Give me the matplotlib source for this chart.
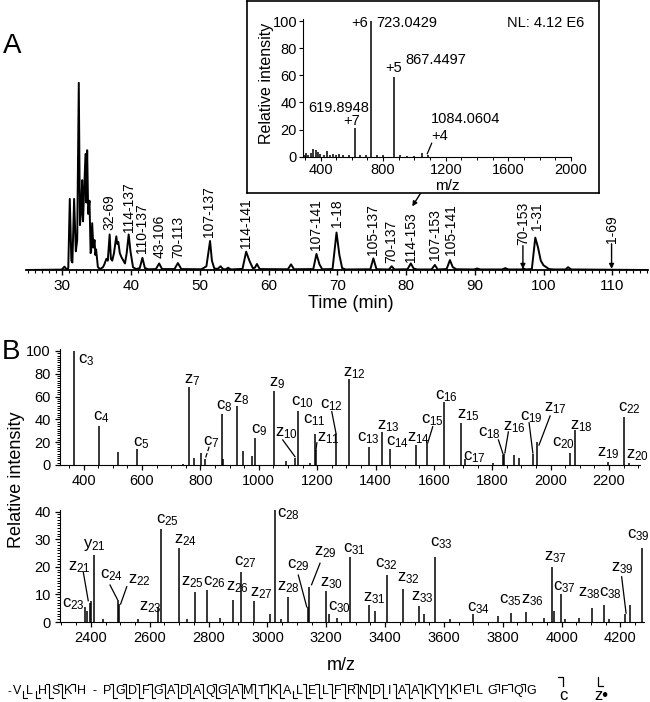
import matplotlib
matplotlib.use("Agg")
import matplotlib.pyplot as plt
from matplotlib.ticker import MultipleLocator

plt.rcParams['font.family'] = ['Liberation Sans', 'DejaVu Sans']
plt.rcParams['mathtext.fontset'] = 'custom'
plt.rcParams['mathtext.rm'] = 'Liberation Sans'
plt.rcParams['mathtext.it'] = 'Liberation Sans:italic'
plt.rcParams['mathtext.bf'] = 'Liberation Sans:bold'

# ---------------- data: panel A chromatogram (traced vertices) ----------------
chrom_time = [24.7, 29.9, 30.3, 30.6, 30.85, 31.07, 31.3, 31.45, 31.7, 31.95, 32.15, 32.38, 32.55,
              32.7, 32.87, 33.0, 33.15, 33.36, 33.48, 33.6, 33.75, 33.94, 34.1, 34.18, 34.33, 34.5,
              34.67, 34.8, 34.9, 35.16, 35.5, 35.9, 36.1, 36.4, 36.6, 36.87, 37.05, 37.25, 37.5,
              37.84, 37.98, 38.13, 38.35, 38.57, 38.8, 39.1, 39.35, 39.64, 39.9, 40.27, 40.7, 41.25,
              41.64, 42.0, 42.5, 43.6, 44.07, 44.5, 46.3, 46.8, 47.3, 50.2, 50.6, 50.95, 51.48, 51.75,
              52.1, 52.6, 53.0, 53.4, 53.8, 54.1, 54.5, 56.2, 56.73, 57.2, 57.7, 58.0, 58.3, 58.7,
              62.8, 63.26, 63.7, 66.5, 66.96, 67.4, 67.8, 69.3, 69.88, 70.3, 70.7, 71.2, 74.8, 75.24,
              75.7, 77.5, 77.91, 78.3, 80.2, 80.69, 81.1, 81.6, 83.7, 84.19, 84.6, 85.9, 86.38, 86.8,
              87.3, 89.9, 90.33, 90.8, 94.0, 94.42, 94.9, 96.8, 97.09, 97.4, 98.3, 98.8, 99.2, 99.6,
              100.0, 100.4, 100.8, 101.5, 103.2, 103.57, 104.0, 115.2]
chrom_int = [0, 0.2, 1.8, 0.3, 1, 38, 5, 4, 38, 10, 16, 100, 24,
             30, 48, 26, 42, 62, 36, 64, 30, 37, 9, 10, 25, 12,
             16, 8, 11, 1.5, 0.5, 1.5, 3, 6, 5, 19, 6, 5, 9,
             18, 14, 15, 9, 7, 5.5, 3.5, 9, 19, 10, 1.5, 0.5, 1,
             6.5, 1, 0.4, 0.5, 3.5, 0.5, 0.5, 3.7, 0.5, 0.4, 1.2, 2, 15.5, 5,
             0.8, 0.6, 2, 0.4, 0.4, 1.2, 0.3, 0.6, 9.8, 5, 1, 1.2, 3.2, 0.5,
             0.4, 3, 0.4, 0.5, 8.6, 3, 0.4, 0.5, 20, 8, 1, 0.3, 0.4, 6.2,
             0.4, 0.3, 2, 0.3, 0.4, 3.5, 0.8, 0.3, 0.3, 2.7, 0.3, 0.5, 5.3, 1.5,
             0.4, 0.3, 0.8, 0.3, 0.3, 1, 0.3, 0.3, 0.8, 0.3, 0.5, 17.3, 12, 5,
             2.5, 1.5, 0.5, 0.3, 0.3, 1.5, 0.3, 0]

chrom_labels = ["32-69", "114-137", "110-137", "43-106", "70-113", "107-137", "114-141",
                "107-141", "1-18", "105-137", "70-137", "114-153", "107-153", "105-141", "1-31"]
chrom_label_time = [36.9, 39.65, 41.6, 44.1, 46.8, 51.35, 56.7, 66.95, 69.9, 75.25, 77.9,
                    80.7, 84.2, 86.5, 99.0]
chrom_label_level = [21.4, 20.5, 9, 6.3, 6.3, 17.8, 11.6, 10.7, 23, 8, 3.7, 4.4, 5.3, 8, 21.4]
chrom_arrow_labels = ["70-153", "1-69"]
chrom_arrow_time = [97.0, 109.9]
chrom_arrow_level = [13, 14]

# ---------------- data: inset MS1 ----------------
ms1_mz = [300, 307, 322, 338, 355, 370, 381, 396, 420, 440, 460, 478, 500, 517, 545, 580,
          619.8948, 650, 690, 723.0429, 760, 800, 867.4497, 905, 950, 1000, 1046, 1084.0604]
ms1_int = [1.5, 2.5, 1.2, 3, 5.5, 5, 3.5, 2, 1.5, 4.4, 1.2, 2, 1, 2, 1, 1,
           21.4, 1, 1, 100, 1, 1, 58.5, 1, 0.8, 0.8, 3, 1.5]
ms1_text = ["+6", "723.0429", "NL: 4.12 E6", "+5", "867.4497", "619.8948", "+7", "1084.0604", "+4"]
ms1_text_mz = [705, 759, 1590, 865, 940, 321, 599, 1104, 1110]
ms1_text_int = [95.8, 95.8, 95.8, 62.7, 68.3, 33.2, 23.4, 24.6, 12.3]
ms1_text_ha = ["right", "left", "left", "center", "left", "left", "center", "left", "left"]

# ---------------- data: panel B, 400-2300 ----------------
top_mz = [367.2, 454.3, 519, 582.4, 740, 762.4, 778, 802, 816.5, 873.5, 879, 925.5, 947, 976,
          988.5, 1053.5, 1093, 1124.6, 1135.6, 1175, 1192.6, 1195.6, 1263.7, 1308.7, 1378.7,
          1423.7, 1449.7, 1537.8, 1577.8, 1634.8, 1693.9, 1705.8, 1802, 1836.9, 1841, 1873,
          1892, 1937.9, 1954, 2066, 2083.1, 2196.2, 2250.1, 2267.2]
top_int = [100, 34.5, 11.7, 14, 1, 68.7, 6, 10.5, 5, 44.5, 5, 52, 12, 8,
           24, 65, 3.5, 6, 47, 2, 27, 13, 28, 75, 16,
           29, 14, 17.5, 19, 55.5, 37, 5, 2, 9, 10, 9,
           6, 10, 20, 10.5, 30.7, 3, 42, 2]
top_ions = ["c3", "c4", "c5", "c7", "z7", "c8", "z8", "c9", "z9", "z10", "c10", "c11", "z11",
            "c12", "z12", "c13", "z13", "c14", "z14", "c15", "c16", "z15", "c17", "c18", "z16",
            "c19", "z17", "c20", "z18", "z19", "c22", "z20"]
top_ion_mz = [381.7, 431, 570, 808, 745, 853, 913, 972, 1036, 1055, 1110, 1152.5, 1199,
              1210, 1289.5, 1337.5, 1404, 1435, 1509, 1556, 1603.7, 1678, 1698.6, 1752, 1835.6,
              1895, 1977, 2003.5, 2066, 2157.6, 2229.6, 2258]
top_ion_int = [89, 39, 16, 17.5, 71.7, 49, 55, 27.8, 68.7, 25, 52.6, 36.6, 21,
               50, 77.5, 20.5, 31, 17.5, 20.5, 36.6, 58, 41, 4.4, 25, 30.7,
               39.5, 46.7, 16, 31, 7.3, 46.7, 5.8]
# leader lines (label -> peak), data coords
top_leaders = [(830, 16, 818, 6.5), (1082, 22, 1124, 7.3), (1199, 19.5, 1196, 13.5),
               (1250, 46.8, 1264, 28.5), (1596, 33.6, 1579, 19.5), (1821, 22, 1837, 9.5),
               (1855, 29, 1843, 10.5), (1926, 37, 1939, 10.5), (1998, 43, 1960, 17.5)]

# ---------------- data: panel B, 2300-4300 ----------------
bot_mz = [2379.2, 2386, 2395.3, 2401, 2411.3, 2440, 2492.3, 2496.3, 2560, 2627.4, 2639.3,
          2698.4, 2725, 2755.4, 2795.4, 2840, 2883.5, 2909.5, 2954.5, 3008, 3024.5, 3045,
          3069.6, 3137.6, 3140.6, 3197.6, 3208.6, 3235, 3279.7, 3344.7, 3367, 3407.8, 3459.7,
          3516.7, 3531, 3570.8, 3620, 3698.9, 3783, 3828, 3878.9, 3940, 3966, 3975, 3998.1,
          4010, 4060, 4103, 4145.1, 4160, 4216.1, 4232, 4273.2]
bot_int = [5.5, 4, 7, 7.5, 24.3, 1, 8, 6.5, 1, 5.5, 33.6,
           26.7, 1, 11, 11.6, 1.5, 8, 18.2, 7.7, 3, 40.5, 1,
           9, 5.5, 12.8, 11.3, 3, 1.5, 23.4, 6, 4, 17, 11.8,
           5.9, 3, 23.7, 1, 3, 2, 3.2, 3.5, 1.5, 20, 4, 10,
           1, 1.5, 5, 6.2, 1, 3, 6, 26.7]
bot_ions = ["c23", "z21", "y21", "c24", "z22", "z23", "c25", "z24", "z25", "c26", "z26", "c27",
            "z27", "c28", "z28", "c29", "z29", "z30", "c30", "c31", "z31", "c32", "z32", "z33",
            "c33", "c34", "c35", "z36", "z37", "c37", "z38", "c38", "z39", "c39"]
bot_ion_mz = [2301, 2323, 2372, 2431, 2527, 2564.5, 2621, 2682.5, 2706, 2782, 2859, 2887,
              2941, 3031.6, 3031.6, 3067.6, 3159, 3178.7, 3205, 3258, 3326, 3366, 3441.5, 3487,
              3553, 3677, 3787, 3862, 3940, 3972, 4054.7, 4128, 4168, 4221]
bot_ion_int = [5.5, 18.8, 26.7, 15.8, 14, 4.3, 35.8, 28.5, 13.4, 13.4, 11.6, 20.7,
               9.2, 38, 11.6, 19.4, 24.3, 12.8, 4.3, 25.1, 7.4, 20, 14.6, 8,
               27.3, 3.7, 6.8, 6.8, 22.5, 11.6, 9.2, 9.2, 18.2, 30.3]
bot_leaders = [(2374, 18.2, 2391, 7.7), (2465, 13.4, 2490, 8.2), (2522, 12.8, 2501, 6.5),
               (3105, 17, 3133.6, 5.5), (3178.8, 21.3, 3150, 13.5), (4204, 16.4, 4219, 3.2)]

# ---------------- sequence ----------------
sequence = "VLHSKHPGDFGADAQGAMTKALELFRNDIAAKYKELGFQG"
c_observed = [3, 4, 5, 7, 8, 9, 10, 11, 12, 13, 14, 15, 16, 17, 18, 19, 20, 22, 23, 24, 25, 26,
              27, 28, 29, 30, 31, 32, 33, 34, 35, 37, 38, 39]
z_observed = list(range(7, 34)) + [36, 37, 38, 39]

# ---------------- figure ----------------
W, H = 650, 702
fig = plt.figure(figsize=(6.5, 7.02), dpi=100)


def frac(l, t, r, b):
    return [l / W, 1 - b / H, (r - l) / W, (b - t) / H]


def ion_label(name):
    return name[0] + r'$_{' + name[1:] + '}$'


# Panel A chromatogram
axc = fig.add_axes(frac(26, 80, 648, 270), zorder=1)
axc.plot(chrom_time, chrom_int, color='k', lw=1.4)
axc.set_xlim(24.7, 115.2)
axc.set_ylim(0, 101.5)
for s in ['left', 'right', 'top']:
    axc.spines[s].set_visible(False)
axc.spines['bottom'].set_linewidth(1.3)
axc.set_yticks([])
axc.xaxis.set_major_locator(MultipleLocator(10))
axc.xaxis.set_minor_locator(MultipleLocator(1))
axc.tick_params(axis='x', which='major', direction='out', length=3.5, width=1, labelsize=11, pad=3)
axc.tick_params(axis='x', which='minor', direction='out', length=2, width=0.8)
axc.patch.set_alpha(0)
for lab, t, y in zip(chrom_labels, chrom_label_time, chrom_label_level):
    axc.text(t, y, lab, rotation=90, ha='center', va='bottom', fontsize=10)
for lab, t, y in zip(chrom_arrow_labels, chrom_arrow_time, chrom_arrow_level):
    axc.annotate('', xy=(t, 0.6), xytext=(t, y),
                 arrowprops=dict(arrowstyle='-|>', color='k', lw=1, mutation_scale=7,
                                 shrinkA=0, shrinkB=0))
    axc.text(t, y + 0.3, lab, rotation=90, ha='center', va='bottom', fontsize=10)
axc.annotate('', xy=(80.9, 34.0), xytext=(82.2, 41.5),
             arrowprops=dict(arrowstyle='-|>', color='k', lw=1, mutation_scale=7,
                             shrinkA=0, shrinkB=0), annotation_clip=False)

# Inset box and MS1 spectrum
axbox = fig.add_axes(frac(247, 1, 599, 193), zorder=2)
axbox.set_xticks([])
axbox.set_yticks([])
for s in axbox.spines.values():
    s.set_linewidth(1.2)

axi = fig.add_axes(frac(303.3, 19.3, 571, 156.7), zorder=3)
axi.patch.set_alpha(0)
axi.vlines(ms1_mz, 0, ms1_int, color='k', lw=1.1)
axi.set_xlim(290, 2000)
axi.set_ylim(0, 101.3)
axi.spines['top'].set_visible(False)
axi.spines['right'].set_visible(False)
axi.xaxis.set_major_locator(MultipleLocator(400))
axi.xaxis.set_minor_locator(MultipleLocator(100))
axi.yaxis.set_major_locator(MultipleLocator(20))
axi.tick_params(which='major', direction='out', length=3, width=0.8, labelsize=10.5, pad=1.5)
axi.tick_params(which='minor', direction='out', length=1.8, width=0.7)
for t, x, y, ha in zip(ms1_text, ms1_text_mz, ms1_text_int, ms1_text_ha):
    axi.text(x, y, t, ha=ha, va='baseline', fontsize=10.5)
axi.plot([1110, 1082], [9.9, 2.2], color='k', lw=0.9)

# Panel B top spectrum
axt = fig.add_axes(frac(60, 349, 640, 465), zorder=1)
axt.vlines(top_mz, 0, top_int, color='k', lw=1.1)
axt.set_xlim(319, 2306)
axt.set_ylim(0, 101.7)
for t, x, y in zip(top_ions, top_ion_mz, top_ion_int):
    axt.text(x, y, ion_label(t), ha='left', va='baseline', fontsize=12)
for i, (x1, y1, x2, y2) in enumerate(top_leaders):
    axt.plot([x1, x2], [y1, y2], color='k', lw=0.9, ls='--' if i == 0 else '-')

# Panel B bottom spectrum
axb = fig.add_axes(frac(60, 510, 644, 622), zorder=1)
axb.vlines(bot_mz, 0, bot_int, color='k', lw=1.1)
axb.set_xlim(2295, 4280)
axb.set_ylim(0, 40.6)
for t, x, y in zip(bot_ions, bot_ion_mz, bot_ion_int):
    axb.text(x, y, ion_label(t), ha='left', va='baseline', fontsize=12)
for (x1, y1, x2, y2) in bot_leaders:
    axb.plot([x1, x2], [y1, y2], color='k', lw=0.9)

for ax, ymaj, ymin in [(axt, 20, 2), (axb, 10, 1)]:
    ax.spines['top'].set_visible(False)
    ax.spines['right'].set_visible(False)
    ax.xaxis.set_major_locator(MultipleLocator(200))
    ax.xaxis.set_minor_locator(MultipleLocator(50))
    ax.yaxis.set_major_locator(MultipleLocator(ymaj))
    ax.yaxis.set_minor_locator(MultipleLocator(ymin))
    ax.tick_params(which='major', direction='out', length=3.5, width=0.9, labelsize=10.5, pad=3)
    ax.tick_params(which='minor', direction='out', length=2, width=0.7)
    ax.patch.set_alpha(0)

# Overlay for panel letters, axis titles, sequence
ov = fig.add_axes([0, 0, 1, 1], zorder=10)
ov.set_xlim(0, W)
ov.set_ylim(H, 0)
ov.axis('off')
ov.patch.set_alpha(0)
ov.text(12, 46, 'A', fontsize=20, ha='center', va='center')
ov.text(11, 352, 'B', fontsize=20, ha='center', va='center')
ov.text(351, 303, 'Time (min)', fontsize=13, ha='center', va='center')
ov.text(266.7, 83.3, 'Relative intensity', fontsize=11.5, rotation=90, ha='center', va='center')
ov.text(447.3, 185.5, 'm/z', fontsize=11, ha='center', va='center')
ov.text(17, 480, 'Relative intensity', fontsize=13, rotation=90, ha='center', va='center')
ov.text(341, 666, 'm/z', fontsize=13, ha='center', va='center')

# sequence with cleavage marks
x0, step, yc = 17.0, 12.85, 691
ytop, ybot = yc - 7, yc + 7
xs = []
slot = 0
ov.text(9, yc, '-', fontsize=8, ha='center', va='center')
for i, aa in enumerate(sequence):
    if i == 6:
        ov.text(x0 + slot * step, yc, '-', fontsize=9, ha='center', va='center')
        slot += 1
    xs.append(x0 + slot * step)
    ov.text(xs[-1], yc, aa, fontsize=9, ha='center', va='center')
    slot += 1
n = len(sequence)
for i in range(1, n):
    if i == 6:
        continue
    gx = (xs[i - 1] + xs[i]) / 2
    if i in c_observed:
        ov.plot([gx - 3.5, gx, gx], [ytop, ytop, yc], color='k', lw=0.8)
    if (n - i) in z_observed:
        ov.plot([gx, gx, gx + 3.5], [yc, ybot, ybot], color='k', lw=0.8)
# legend for marks
ov.plot([558, 563, 563], [677, 677, 686], color='k', lw=0.9)
ov.text(563, 695, 'c', fontsize=12, ha='center', va='center')
ov.plot([598, 598, 603], [677, 686, 686], color='k', lw=0.9)
ov.text(601, 695, 'z•', fontsize=12, ha='center', va='center')

fig.savefig('out.png', dpi=100)
